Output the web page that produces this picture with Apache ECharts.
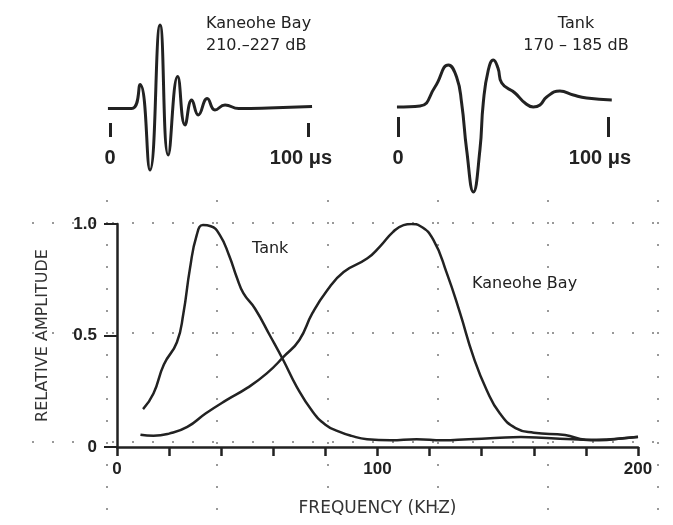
<!DOCTYPE html>
<html>
<head>
<meta charset="utf-8">
<script src="https://cdn.jsdelivr.net/npm/echarts@6/dist/echarts.min.js"></script>
<style>
  html, body { margin: 0; padding: 0; background: #fff; }
  #chart { width: 673px; height: 525px; }
</style>
</head>
<body>
<div id="chart"></div>
<script>
// spectra: [frequency kHz, relative amplitude]
const tankSpectrum = [
  [10, 0.17], [14, 0.24], [18, 0.37], [23, 0.47], [25.5, 0.6], [28, 0.8], [30.6, 0.95],
  [33, 0.995], [36, 0.99], [39.5, 0.95], [43, 0.86], [46, 0.76], [48.5, 0.69], [53, 0.62],
  [58.7, 0.5], [63.8, 0.39], [69, 0.27], [75, 0.16], [80, 0.1], [85, 0.07], [90, 0.05],
  [96, 0.035], [105, 0.03], [115, 0.035], [125, 0.03], [135, 0.035], [145, 0.04],
  [155, 0.045], [165, 0.04], [175, 0.035], [185, 0.03], [195, 0.04], [200, 0.045]
]
const baySpectrum = [
  [9, 0.055], [14, 0.05], [20, 0.06], [27, 0.09], [34, 0.15], [42, 0.21], [50, 0.265],
  [57.5, 0.33], [64, 0.405], [70, 0.48], [75, 0.6], [80.5, 0.7], [87, 0.785], [96, 0.845],
  [101, 0.9], [106, 0.965], [110, 0.995], [113, 1.0], [116.5, 0.99], [121.4, 0.93],
  [126.6, 0.78], [131.7, 0.6], [136.8, 0.405], [141.9, 0.256], [147, 0.15], [153, 0.085],
  [160, 0.064], [172, 0.054], [180, 0.033], [188, 0.034], [200, 0.046]
]
// waveforms: [time us, amplitude (arbitrary)]
const bayWave = [
  [-1, 0], [11, 0], [15.2, 0.48], [20.2, -1.23], [25.3, 1.67], [29.4, -0.93], [34.2, 0.64],
  [37.9, -0.33], [41.3, 0.17], [44.6, -0.13], [49.1, 0.2], [53, -0.03], [58.1, 0.07],
  [65, 0], [80, 0.01], [102, 0.04]
]
const tankWave = [
  [-0.5, 0], [10.5, 0.02], [17.6, 0.4], [24, 0.84], [27.9, 0.6], [30.3, 0.08], [32.7, -0.86],
  [35.9, -1.7], [39, -0.86], [40.6, 0.08], [43, 0.74], [45.4, 0.94], [47.6, 0.78],
  [49.4, 0.48], [55.7, 0.28], [60.5, 0.08], [64.4, 0], [67.6, 0.04], [70.8, 0.2],
  [77.1, 0.32], [83.5, 0.24], [89.8, 0.18], [101.8, 0.14]
]
const freqLabels = [0, 100, 200]
const ampLabels = [0, 0.5, 1]

const ink = '#222'
const dots = { color: '#999', width: 2, type: [2, 18] }
const hidden = { show: false }

const chart = echarts.init(document.getElementById('chart'))

const option = {
  backgroundColor: '#fff',
  animation: false,
  textStyle: { fontFamily: 'DejaVu Sans' },
  title: [
    { text: 'Kaneohe Bay\n210.–227 dB', left: 201, top: 8,
      textStyle: { fontSize: 16, fontWeight: 'normal', color: ink, lineHeight: 22 } },
    { text: 'Tank\n170 – 185 dB', left: 571, top: 8, textAlign: 'center',
      textStyle: { fontSize: 16, fontWeight: 'normal', color: ink, lineHeight: 22, align: 'center' } },
    { text: 'Tank', left: 247, top: 236,
      textStyle: { fontSize: 16, fontWeight: 'normal', color: ink } },
    { text: 'Kaneohe Bay', left: 467, top: 271,
      textStyle: { fontSize: 16, fontWeight: 'normal', color: ink } }
  ],
  grid: [
    // 0: main spectrum
    { left: 117, right: 35, top: 224, bottom: 78 },
    // 1: vertical dotted background
    { left: 107, width: 551, top: 200, bottom: 0 },
    // 2: horizontal dotted background
    { left: 32, right: 10, top: 223, height: 219 },
    // 3, 4: waveform insets
    { left: 100, width: 218, top: 8.5, height: 200 },
    { left: 387.5, width: 231, top: 7, height: 200 },
    // 5, 6: inset scale bars
    { left: 110, width: 198, top: 117, height: 20 },
    { left: 398, width: 210, top: 117, height: 20 }
  ],
  xAxis: [
    {
      gridIndex: 0, type: 'value', min: 0, max: 200, interval: 20,
      name: 'FREQUENCY (KHZ)', nameLocation: 'middle', nameGap: 53,
      nameTextStyle: { fontSize: 17, color: '#333' },
      axisLine: { lineStyle: { color: ink, width: 2.5 } },
      axisTick: { length: 9, lineStyle: { color: ink, width: 2.5 } },
      axisLabel: {
        margin: 14, fontFamily: 'Liberation Sans', fontWeight: 'bold', fontSize: 17, color: ink,
        formatter: v => (freqLabels.includes(v) ? String(v) : '')
      },
      splitLine: hidden
    },
    { gridIndex: 1, type: 'value', min: 0, max: 5, interval: 1,
      axisLine: hidden, axisTick: hidden, axisLabel: hidden,
      splitLine: { show: true, lineStyle: { color: '#999', width: 2, type: [2, 20] } } },
    { gridIndex: 2, type: 'value', min: 0, max: 1, show: false },
    { gridIndex: 3, type: 'value', min: -5, max: 105, show: false },
    { gridIndex: 4, type: 'value', min: -5, max: 105, show: false },
    {
      gridIndex: 5, type: 'value', min: 0, max: 100, interval: 100,
      axisLine: hidden,
      axisTick: { inside: true, length: 14, lineStyle: { color: ink, width: 3 } },
      axisLabel: {
        margin: 11, fontFamily: 'Liberation Sans', fontWeight: 'bold', fontSize: 20, color: ink,
        formatter: v => (v === 100 ? '{r|100 μs}' : String(v)),
        rich: { r: { fontFamily: 'Liberation Sans', fontWeight: 'bold', fontSize: 20, color: ink, padding: [0, 14, 0, 0] } }
      },
      splitLine: hidden
    },
    {
      gridIndex: 6, type: 'value', min: 0, max: 100, interval: 100,
      axisLine: hidden,
      axisTick: { inside: true, length: 20, lineStyle: { color: ink, width: 3 } },
      axisLabel: {
        margin: 11, fontFamily: 'Liberation Sans', fontWeight: 'bold', fontSize: 20, color: ink,
        formatter: v => (v === 100 ? '{r|100 μs}' : String(v)),
        rich: { r: { fontFamily: 'Liberation Sans', fontWeight: 'bold', fontSize: 20, color: ink, padding: [0, 16, 0, 0] } }
      },
      splitLine: hidden
    }
  ],
  yAxis: [
    {
      gridIndex: 0, type: 'value', min: 0, max: 1, interval: 0.5,
      name: 'RELATIVE AMPLITUDE', nameLocation: 'middle', nameGap: 66,
      nameTextStyle: { fontSize: 16, color: '#333' },
      axisLine: { show: true, lineStyle: { color: ink, width: 2.5 } },
      axisTick: { show: true, length: 13, lineStyle: { color: ink, width: 2 } },
      axisLabel: {
        margin: 20, fontFamily: 'Liberation Sans', fontWeight: 'bold', fontSize: 17, color: ink,
        formatter: v => (ampLabels.includes(v) ? (v === 0 ? '0' : v.toFixed(1)) : '')
      },
      splitLine: hidden
    },
    { gridIndex: 1, type: 'value', min: 0, max: 1, show: false },
    { gridIndex: 2, type: 'value', min: 0, max: 2, interval: 1,
      axisLine: hidden, axisTick: hidden, axisLabel: hidden,
      splitLine: { show: true, lineStyle: dots } },
    { gridIndex: 3, type: 'value', min: -2, max: 2, show: false },
    { gridIndex: 4, type: 'value', min: -2, max: 2, show: false },
    { gridIndex: 5, type: 'value', min: 0, max: 1, show: false },
    { gridIndex: 6, type: 'value', min: 0, max: 1, show: false }
  ],
  series: [
    { name: 'Tank', type: 'line', xAxisIndex: 0, yAxisIndex: 0, data: tankSpectrum,
      smooth: 0.5, symbol: 'none',
      lineStyle: { color: ink, width: 2.5 } },
    { name: 'Kaneohe Bay', type: 'line', xAxisIndex: 0, yAxisIndex: 0, data: baySpectrum,
      smooth: 0.5, symbol: 'none',
      lineStyle: { color: ink, width: 2.5 } },
    { name: 'Kaneohe Bay click', type: 'line', xAxisIndex: 3, yAxisIndex: 3, data: bayWave,
      smooth: 0.5, symbol: 'none',
      lineStyle: { color: ink, width: 3 } },
    { name: 'Tank click', type: 'line', xAxisIndex: 4, yAxisIndex: 4, data: tankWave,
      smooth: 0.5, symbol: 'none',
      lineStyle: { color: ink, width: 3 } }
  ]
}

chart.setOption(option)
</script>
</body>
</html>
